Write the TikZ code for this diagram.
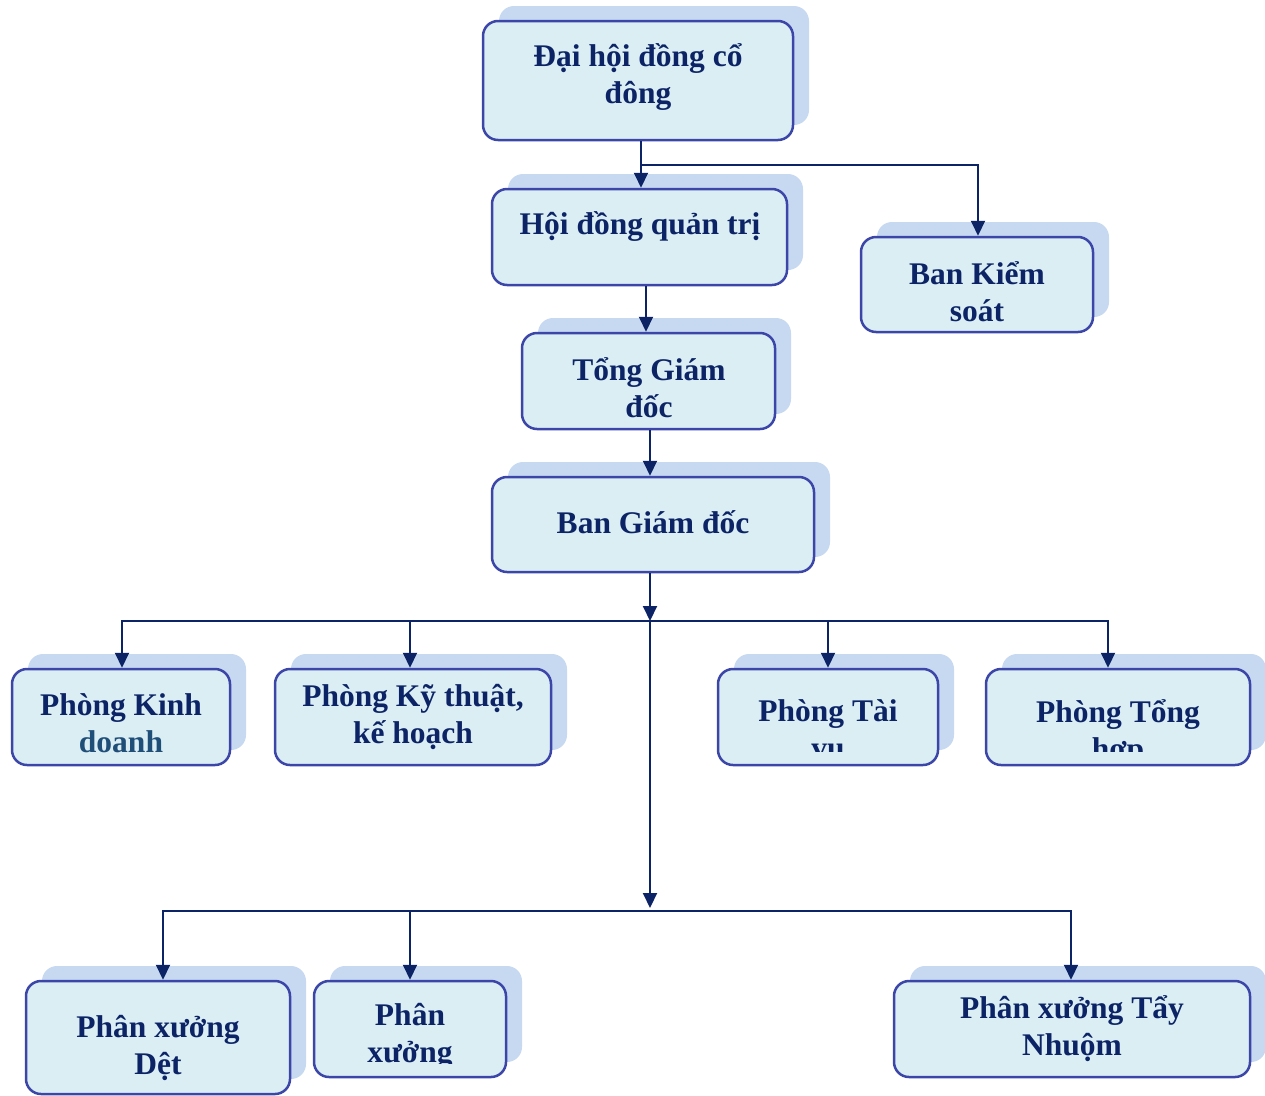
\documentclass[tikz,border=0pt]{standalone}
\usepackage{fontspec}
\setmainfont{Liberation Serif}
\usetikzlibrary{arrows.meta,shadows}
\definecolor{txtc}{HTML}{0C2466}
\definecolor{txtb}{HTML}{1F4E79}
\definecolor{linec}{HTML}{0C2466}
\definecolor{bordc}{HTML}{3C46A8}
\definecolor{fillc}{HTML}{DAEEF3}
\definecolor{shc}{HTML}{C6D9F1}
\begin{document}
\begin{tikzpicture}[x=1pt,y=-1pt,
  box/.style={draw=bordc, line width=2.5pt, fill=fillc, rounded corners=15pt, inner sep=0pt,
    general shadow={fill=shc, draw=none, shadow xshift=16pt, shadow yshift=15pt}},
  txt/.style={text=txtc, font=\fontsize{31.5}{37}\selectfont\bfseries, align=center, inner sep=0pt},
  conn/.style={draw=linec, line width=2pt},
  arr/.style={conn, -{Triangle[length=15pt,width=14pt]}}]
\clip (0,0) rectangle (1265,1095);
% boxes
\node[box, minimum width=310pt, minimum height=119pt] (b1) at (638,80.5) {};
\node[box, minimum width=295pt, minimum height=96pt] (b2) at (639.5,237) {};
\node[box, minimum width=232pt, minimum height=95pt] (b3) at (977,284.5) {};
\node[box, minimum width=253pt, minimum height=96pt] (b4) at (648.5,381) {};
\node[box, minimum width=322pt, minimum height=95pt] (b5) at (653,524.5) {};
\node[box, minimum width=218pt, minimum height=96pt] (b6) at (121,717) {};
\node[box, minimum width=276pt, minimum height=96pt] (b7) at (413,717) {};
\node[box, minimum width=220pt, minimum height=96pt] (b8) at (828,717) {};
\node[box, minimum width=264pt, minimum height=96pt] (b9) at (1118,717) {};
\node[box, minimum width=264pt, minimum height=113pt] (b10) at (158,1037.5) {};
\node[box, minimum width=192pt, minimum height=96pt] (b11) at (410,1029) {};
\node[box, minimum width=356pt, minimum height=96pt] (b12) at (1072,1029) {};
% texts
\node[txt] (t1) at (638,77.5) {Đại hội đồng cổ\\đông};
\node[txt] (t2) at (640,227) {Hội đồng quản trị};
\node[txt] (t3) at (977,291.5) {Ban Kiểm\\soát};
\node[txt] (t4) at (649,388) {Tổng Giám\\đốc};
\node[txt] (t5) at (653,522.5) {Ban Giám đốc};
\node[txt] (t6) at (121,723.5) {Phòng Kinh\\{\color{txtb}doanh}};
\node[txt] (t7) at (413,717) {Phòng Kỹ thuật,\\kế hoạch};
\begin{scope}
\clip (b8.north west) rectangle ([yshift=15pt]b8.south east);
\node[txt] (t8) at (828,732.5) {Phòng Tài\\vụ};
\end{scope}
\begin{scope}
\clip (b9.north west) rectangle ([yshift=15pt]b9.south east);
\node[txt] (t9) at (1118,732.5) {Phòng Tổng\\hợp};
\end{scope}
\node[txt] (t10) at (158,1047.5) {Phân xưởng\\Dệt};
\begin{scope}
\clip (b11.north west) rectangle ([yshift=15pt]b11.south east);
\node[txt] (t11) at (410,1036.5) {Phân\\xưởng};
\end{scope}
\node[txt] (t12) at (1072,1029) {Phân xưởng Tẩy\\Nhuộm};
% connectors
\coordinate (j1) at (641,165);
\coordinate (j2) at (650,621);
\coordinate (j3) at (650,908);
\coordinate (j4) at (650,911);
\draw[arr] ([xshift=3pt]b1.south) -- ([xshift=1.5pt]b2.north);
\draw[arr] (j1) -| ([xshift=1pt]b3.north);
\draw[arr] ([xshift=6.5pt]b2.south) -- ([xshift=-2.5pt]b4.north);
\draw[arr] ([xshift=1.5pt]b4.south) -- ([xshift=-3pt]b5.north);
\draw[arr] ([xshift=-3pt]b5.south) -- (j2);
\draw[arr] (j2) -| ([xshift=1pt]b6.north);
\draw[arr] (j2) -| ([xshift=-3pt]b7.north);
\draw[arr] (j2) -| (b8.north);
\draw[arr] (j2) -| ([xshift=-10pt]b9.north);
\draw[arr] (j2) -- (j3);
\draw[arr] (j4) -| ([xshift=5pt]b10.north);
\draw[arr] (j4) -| (b11.north);
\draw[arr] (j4) -| ([xshift=-1pt]b12.north);
\end{tikzpicture}
\end{document}
